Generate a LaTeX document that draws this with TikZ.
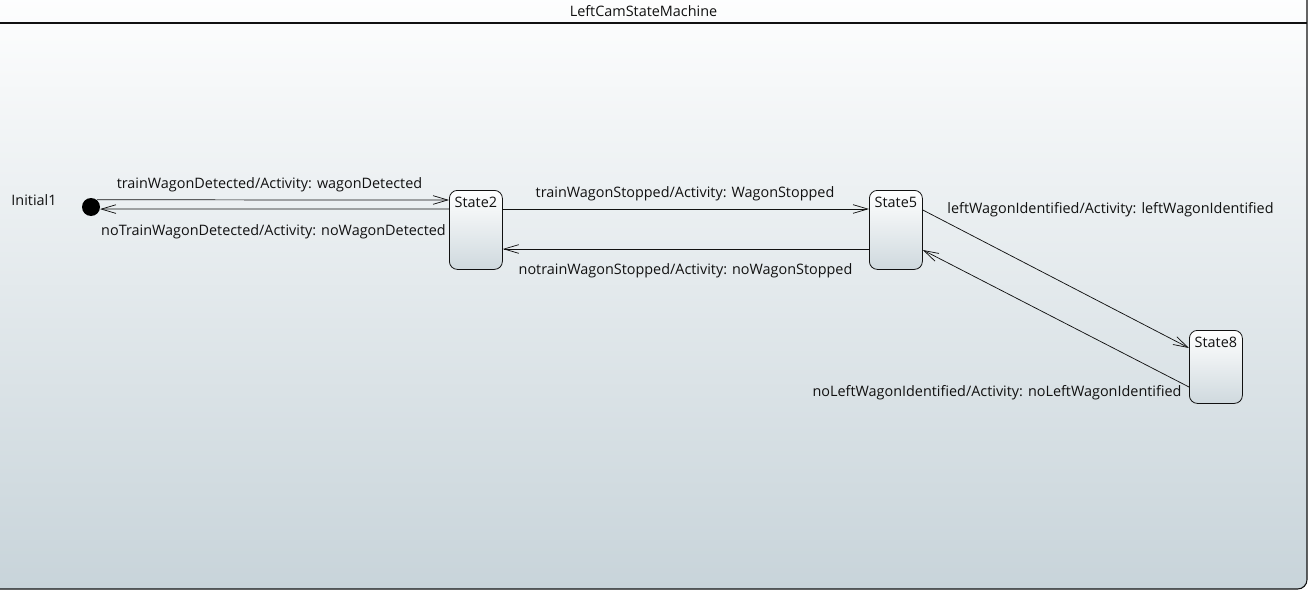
\documentclass[tikz,border=0pt]{standalone}
\usepackage{fontspec}
\setmainfont{Open Sans}
\usetikzlibrary{arrows.meta,calc}
\definecolor{bgbot}{HTML}{C8D4DA}
\definecolor{stbot}{HTML}{CFD9DE}
\definecolor{ink}{HTML}{111111}
\tikzset{
  stbox/.style={draw=ink, line width=0.6pt, rounded corners=8*0.75pt, top color=white, bottom color=stbot,
    minimum width=53*0.75pt, inner xsep=0pt, inner ysep=3pt, text height=10pt, anchor=north west,
    font=\fontsize{10.8}{13}\selectfont, text=ink},
  lbl/.style={anchor=base, inner sep=0pt, font=\fontsize{10.8}{13}\selectfont, text=ink},
  tr/.style={draw=ink, line width=0.55pt, -{Straight Barb[length=11pt,width=6.5pt,line width=0.55pt]}},
}
\begin{document}
\begin{tikzpicture}[x=0.75pt,y=-0.75pt]
\useasboundingbox (0,0) rectangle (1311,592);
% frame
\shade[top color=white, bottom color=bgbot, rounded corners=7] (-20,-20) rectangle (1307,589);
\draw[ink, line width=0.8pt, rounded corners=7] (-20,-20) rectangle (1307,589);
\coordinate (hl) at (-20,23);
\coordinate (hr) at (1307,23);
\draw[ink, line width=0.8pt] (hl) -- (hr);
\node[lbl] (title) at (643.5,17) {LeftCamStateMachine};
% states
\node[fill=black, circle, inner sep=0pt, minimum size=18*0.75pt] (init) at (91,207) {};
\node[lbl] (initlbl) at (34,205) {Initial1};
\node[stbox, text depth=43.25pt] (s2) at (449,190) {State2};
\node[stbox, text depth=43.25pt] (s5) at (869,190) {State5};
\node[stbox, text depth=38.75pt] (s8) at (1189,330) {State8};
% transitions
\draw[tr] (init.51) -- ($(s2.north west)+(0,10)$);
\draw[tr] ($(s2.north west)+(0,19)$) -- (init.-13);
\draw[tr] ($(s2.north east)+(0,19)$) -- ($(s5.north west)+(0,19)$);
\draw[tr] ($(s5.north west)+(0,59)$) -- ($(s2.north east)+(0,59)$);
\draw[tr] ($(s5.north east)+(0,20)$) -- ($(s8.north west)+(0,18)$);
\draw[tr] ($(s8.north west)+(0,57)$) -- ($(s5.north east)+(0,60)$);
% labels
\node[lbl] (l1) at (269.5,188) {trainWagonDetected/Activity: wagonDetected};
\node[lbl] (l2) at (273.5,235) {noTrainWagonDetected/Activity: noWagonDetected};
\node[lbl] (l3) at (685,197) {trainWagonStopped/Activity: WagonStopped};
\node[lbl] (l4) at (685.5,274) {notrainWagonStopped/Activity: noWagonStopped};
\node[lbl] (l5) at (1110.5,213) {leftWagonIdentified/Activity: leftWagonIdentified};
\node[lbl] (l6) at (997,396) {noLeftWagonIdentified/Activity: noLeftWagonIdentified};
\end{tikzpicture}
\end{document}
